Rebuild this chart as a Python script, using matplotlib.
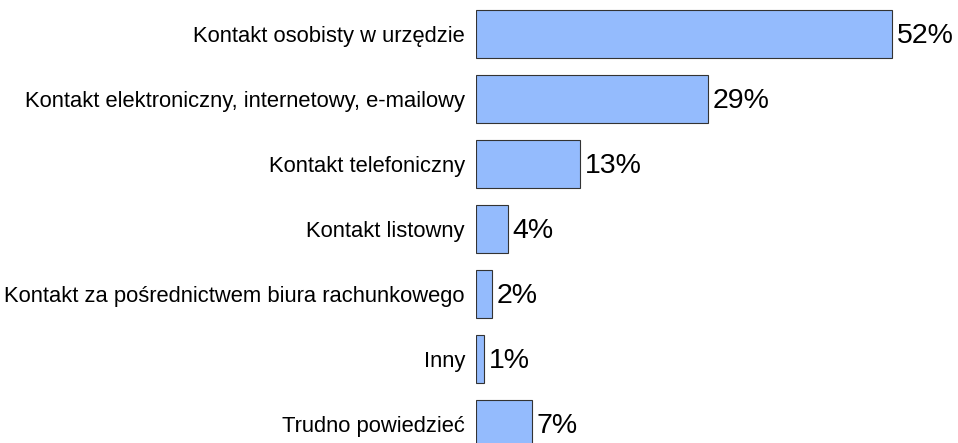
import matplotlib
matplotlib.use("Agg")
import matplotlib.pyplot as plt

categories = [
    "Kontakt osobisty w urzędzie",
    "Kontakt elektroniczny, internetowy, e-mailowy",
    "Kontakt telefoniczny",
    "Kontakt listowny",
    "Kontakt za pośrednictwem biura rachunkowego",
    "Inny",
    "Trudno powiedzieć",
]
values = [52, 29, 13, 4, 2, 1, 7]
value_labels = ["52%", "29%", "13%", "4%", "2%", "1%", "7%"]

plt.rcParams['font.family'] = ['Liberation Sans', 'DejaVu Sans']

fig = plt.figure(figsize=(9.58, 4.43), dpi=100)
ax = fig.add_axes([476/958, 0, 480/958, 1])
pos = list(range(len(categories)))
ax.barh(pos, values, height=0.75, color="#94bbfd", edgecolor="#333333", linewidth=0.8)
ax.set_xlim(0, 60)
ax.set_ylim((443-34)/65, -34/65)
ax.set_yticks(pos)
ax.set_yticklabels(categories, fontsize=15.8)
ax.tick_params(axis='y', length=0, pad=8)
ax.set_xticks([])
for s in ax.spines.values():
    s.set_visible(False)
for p, v, t in zip(pos, values, value_labels):
    ax.text(v + 0.6, p + 0.03, t, va='center', ha='left', fontsize=20.5)
fig.savefig("out.png", dpi=100)
